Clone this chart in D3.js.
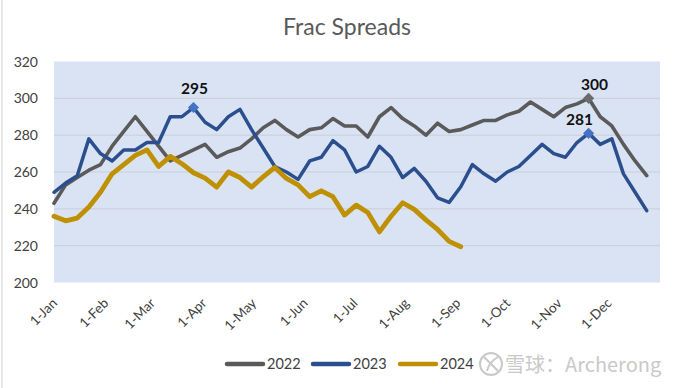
<!DOCTYPE html>
<html>
<head>
<meta charset="utf-8">
<script src="https://cdn.jsdelivr.net/npm/d3@7/dist/d3.min.js"></script>
<style>
  html, body { margin: 0; padding: 0; background: #fff; }
  svg { display: block; font-family: Lato, "Open Sans", sans-serif; }
</style>
</head>
<body>
<svg id="chart" width="680" height="388"></svg>
<script>
// ---- data (weekly readings, week 0 = 1-Jan) ----
const seriesNames = ["2022", "2023", "2024"];
const values2022 = [243, 253, 257, 261, 264, 274, 282, 290, 282, 274, 266, 269, 272, 275, 268, 271,
  273, 278, 284, 288, 283, 279, 283, 284, 289, 285, 285, 279, 290, 295, 289, 285, 280, 286.5,
  282, 283, 285.5, 288, 288, 291, 293, 298, 294, 290, 295, 297, 300, 290, 285, 275, 266, 258];
const values2023 = [249, 254, 258, 278, 270, 266, 272, 272, 276, 276, 290, 290, 295, 287, 283, 290,
  294, 283, 273, 263, 260, 256, 266, 268, 277, 272, 260, 263, 274, 268, 257, 262, 255, 246,
  243.5, 252, 264, 259, 255, 260, 263, 269, 275, 270, 268, 276, 281, 275, 278, 259, 249, 239];
const values2024 = [236, 233.5, 235, 241, 249, 259, 264, 269, 272, 263, 268.5, 264.5, 259.6, 256.7,
  251.8, 260, 257, 251.8, 257.4, 262.5, 256.5, 253, 246.6, 249.8, 246.6, 236.6, 242, 238,
  227.5, 236, 243.3, 239.7, 234, 228.8, 222.3, 219.4];
const monthLabels = ["1-Jan", "1-Feb", "1-Mar", "1-Apr", "1-May", "1-Jun", "1-Jul", "1-Aug", "1-Sep", "1-Oct", "1-Nov", "1-Dec"];
const yTicks = [200, 220, 240, 260, 280, 300, 320];
// highlighted points: series index, week index
const highlightSeries = [1, 0, 1];
const highlightWeeks = [12, 46, 46];

const colors = ["#5a5a5a", "#2b4f8e", "#bf9000"];
const markerColors = ["#6b6b6b", "#4472c4", "#4472c4"];
const widths = [3.6, 3.5, 4.8];

const svg = d3.select("#chart");
const W = 680, H = 388;
const plot = { left: 54, right: 660, top: 61.5, bottom: 282.5 };

const baseYear = 2022;
const weekDate = i => d3.timeDay.offset(new Date(baseYear, 0, 1), 7 * i);
const x = d3.scaleTime()
  .domain([new Date(baseYear, 0, 1), new Date(baseYear + 1, 0, 1)])
  .range([plot.left, plot.right]);
const y = d3.scaleLinear().domain([200, 320]).range([plot.bottom, plot.top]);

// chart frame (left edge visible)
svg.append("line").attr("x1", 2).attr("x2", 2).attr("y1", 0).attr("y2", H)
  .attr("stroke", "#d9d9d9").attr("stroke-width", 1.2);

// title
svg.append("text").attr("x", 347).attr("y", 35).attr("text-anchor", "middle")
  .attr("font-size", 23).attr("fill", "#595959").text("Frac Spreads");

// plot background
svg.append("rect").attr("x", plot.left).attr("y", plot.top)
  .attr("width", plot.right - plot.left).attr("height", plot.bottom - plot.top)
  .attr("fill", "#dae3f3");

// gridlines
svg.append("g").selectAll("line").data(yTicks.slice(1, -1)).join("line")
  .attr("x1", plot.left).attr("x2", plot.right)
  .attr("y1", d => y(d)).attr("y2", d => y(d))
  .attr("stroke", "#c9cfd9").attr("stroke-width", 1);

// y axis labels
svg.append("g").selectAll("text").data(yTicks).join("text")
  .attr("x", 38).attr("y", d => y(d)).attr("dy", "0.36em")
  .attr("text-anchor", "end").attr("font-size", 14).attr("fill", "#404040")
  .text(d => d);

// x axis labels (rotated)
svg.append("g").selectAll("text").data(monthLabels).join("text")
  .attr("transform", (d, i) => `translate(${x(new Date(baseYear, i, 1)) + 4},${304}) rotate(-45)`)
  .attr("text-anchor", "end").attr("font-size", 13.5).attr("fill", "#404040")
  .text(d => d);

// lines
const allSeries = [values2022, values2023, values2024];
const line = d3.line().x((d, i) => x(weekDate(i))).y(d => y(d)).curve(d3.curveLinear);
svg.append("g").selectAll("path").data(allSeries).join("path")
  .attr("d", d => line(d))
  .attr("fill", "none")
  .attr("stroke", (d, i) => colors[i])
  .attr("stroke-width", (d, i) => widths[i])
  .attr("stroke-linejoin", "round").attr("stroke-linecap", "round");

// highlighted markers + labels
const hl = highlightSeries.map((s, k) => ({ s, w: highlightWeeks[k], v: allSeries[s][highlightWeeks[k]] }));
const diamond = d3.symbol().type(d3.symbolSquare).size(62);
svg.append("g").selectAll("path").data(hl).join("path")
  .attr("transform", d => `translate(${x(weekDate(d.w))},${y(d.v)}) rotate(45)`)
  .attr("d", diamond())
  .attr("fill", d => markerColors[d.s]);
const labelDx = [1, 6, -9];
const labelDy = [-14, -8.5, -8];
svg.append("g").selectAll("text").data(hl).join("text")
  .attr("x", (d, k) => x(weekDate(d.w)) + labelDx[k])
  .attr("y", (d, k) => y(d.v) + labelDy[k])
  .attr("text-anchor", "middle").attr("font-size", 15.5).attr("font-weight", "bold")
  .attr("fill", "#111").text(d => Math.round(d.v));

// legend
const legendX = [227, 313, 400];
const lg = svg.append("g").selectAll("g").data(seriesNames).join("g")
  .attr("transform", (d, i) => `translate(${legendX[i]},364)`);
lg.append("line").attr("x1", 0).attr("x2", 36).attr("y1", 0).attr("y2", 0)
  .attr("stroke", (d, i) => colors[i]).attr("stroke-width", 4.5).attr("stroke-linecap", "round");
lg.append("text").attr("x", 40).attr("y", 0).attr("dy", "0.36em")
  .attr("font-size", 14.5).attr("fill", "#404040").text(d => d);

// watermark
const wm = svg.append("g").attr("opacity", 0.9);
wm.append("circle").attr("cx", 491).attr("cy", 364).attr("r", 11)
  .attr("fill", "none").attr("stroke", "#c4c4c4").attr("stroke-width", 2);
wm.append("path").attr("d", "M484,357 Q491,364 498,371 M498,357 Q489,362 487,371")
  .attr("fill", "none").attr("stroke", "#c4c4c4").attr("stroke-width", 2);
wm.append("text").attr("x", 505).attr("y", 372)
  .attr("font-family", "'Noto Sans CJK SC', 'Noto Sans', sans-serif")
  .attr("font-size", 20).attr("fill", "#c4c4c4")
  .attr("stroke", "#ffffff").attr("stroke-width", 0.6).attr("paint-order", "stroke")
  .text("雪球：Archerong");
</script>
</body>
</html>
